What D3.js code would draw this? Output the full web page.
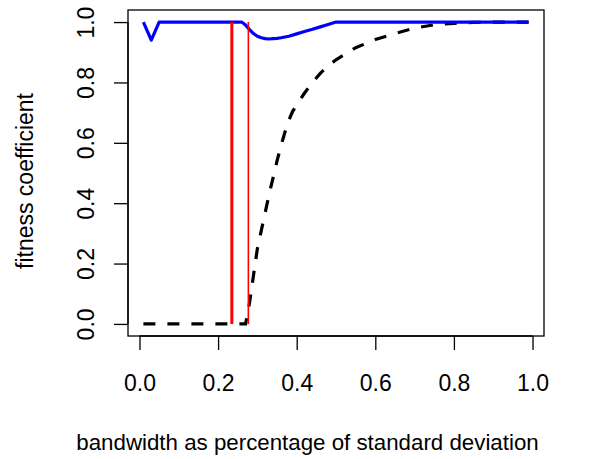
<!DOCTYPE html>
<html>
<head>
<meta charset="utf-8">
<script src="https://cdn.jsdelivr.net/npm/d3@7"></script>
<style>
  html, body { margin: 0; padding: 0; background: #fff; }
  svg { display: block; }
  text { font-family: "Liberation Sans", Arial, Helvetica, sans-serif; fill: #000; }
</style>
</head>
<body>
<svg id="chart" width="606" height="459"></svg>
<script>
// ---- data ----
const xTicks = [0.0, 0.2, 0.4, 0.6, 0.8, 1.0];
const yTicks = [0.0, 0.2, 0.4, 0.6, 0.8, 1.0];
const xTickLabels = ["0.0", "0.2", "0.4", "0.6", "0.8", "1.0"];
const yTickLabels = ["0.0", "0.2", "0.4", "0.6", "0.8", "1.0"];

// blue solid curve
const blueX = [0.01, 0.02, 0.03, 0.04, 0.05, 0.10, 0.20, 0.26, 0.27, 0.28, 0.29, 0.30, 0.31, 0.32, 0.33, 0.34, 0.35, 0.36, 0.38, 0.40, 0.42, 0.44, 0.46, 0.48, 0.50, 0.60, 0.80, 0.99];
const blueY = [1.00, 0.97, 0.94, 0.97, 1.00, 1.00, 1.00, 1.00, 0.99, 0.975, 0.962, 0.953, 0.948, 0.945, 0.944, 0.945, 0.946, 0.948, 0.953, 0.961, 0.969, 0.976, 0.984, 0.992, 1.00, 1.00, 1.00, 1.00];

// black dashed curve
const dashX = [0.01, 0.10, 0.20, 0.27, 0.28, 0.29, 0.30, 0.31, 0.32, 0.33, 0.34, 0.35, 0.36, 0.37, 0.38, 0.39, 0.40, 0.42, 0.44, 0.46, 0.48, 0.50, 0.55, 0.60, 0.65, 0.70, 0.75, 0.80, 0.85, 0.90, 0.99];
const dashY = [0.00, 0.00, 0.00, 0.00, 0.07, 0.16, 0.25, 0.31, 0.37, 0.43, 0.485, 0.54, 0.59, 0.635, 0.675, 0.705, 0.725, 0.765, 0.80, 0.83, 0.855, 0.875, 0.915, 0.942, 0.962, 0.98, 0.991, 0.996, 0.999, 1.00, 1.00];

// red vertical lines
const redX = [0.235, 0.277];
const redWidth = [3, 1.6];

const xLabel = "bandwidth as percentage of standard deviation";
const yLabel = "fitness coefficient";

// ---- layout ----
const svg = d3.select("#chart");
const dataXMin = 0.01, dataXMax = 0.99;
const ext = (dataXMax - dataXMin) * 0.04;
const x = d3.scaleLinear().domain([dataXMin - ext, dataXMax + ext]).range([128, 544]);
const y = d3.scaleLinear().domain([-0.04, 1.04]).range([336, 10]);
const fontSize = 23;

// box
svg.append("rect")
  .attr("x", x.range()[0]).attr("y", y.range()[1])
  .attr("width", x.range()[1] - x.range()[0])
  .attr("height", y.range()[0] - y.range()[1])
  .attr("fill", "none").attr("stroke", "#000").attr("stroke-width", 1.3);

// x axis (R style: line spans first to last tick)
const xAxis = d3.axisBottom(x).tickValues(xTicks).tickSize(14).tickSizeOuter(0)
  .tickFormat((d, i) => xTickLabels[i]);
const gx = svg.append("g").attr("transform", `translate(0,${y.range()[0]})`).call(xAxis);
gx.select(".domain").attr("d", `M${x(xTicks[0])},0H${x(xTicks[xTicks.length - 1])}`)
  .attr("stroke-width", 1.3);
gx.selectAll(".tick line").attr("stroke-width", 1.3);
gx.selectAll(".tick text").attr("font-size", fontSize).attr("dy", null).attr("y", 55)
  .attr("font-family", "Liberation Sans, Arial, sans-serif").attr("fill", "#000");

// y axis
const yAxis = d3.axisLeft(y).tickValues(yTicks).tickSize(14).tickSizeOuter(0)
  .tickFormat((d, i) => yTickLabels[i]);
const gy = svg.append("g").attr("transform", `translate(${x.range()[0]},0)`).call(yAxis);
gy.select(".domain").attr("d", `M0,${y(yTicks[0])}V${y(yTicks[yTicks.length - 1])}`)
  .attr("stroke-width", 1.3);
gy.selectAll(".tick line").attr("stroke-width", 1.3);
gy.selectAll(".tick text")
  .attr("font-size", fontSize)
  .attr("font-family", "Liberation Sans, Arial, sans-serif").attr("fill", "#000")
  .attr("x", null).attr("dy", null)
  .attr("text-anchor", "middle")
  .attr("transform", "translate(-34,0) rotate(-90)");

// lines
const line = d3.line().x(d => x(d[0])).y(d => y(d[1]));
const plotG = svg.append("g");

plotG.append("path")
  .datum(dashX.map((v, i) => [v, dashY[i]]))
  .attr("d", line).attr("fill", "none").attr("stroke", "#000")
  .attr("stroke-width", 3.2).attr("stroke-dasharray", "12,12");

plotG.append("path")
  .datum(blueX.map((v, i) => [v, blueY[i]]))
  .attr("d", line).attr("fill", "none").attr("stroke", "#0000ff")
  .attr("stroke-width", 3.2).attr("stroke-linejoin", "round");

plotG.selectAll(".redline").data(redX).enter().append("line")
  .attr("x1", d => x(d)).attr("x2", d => x(d))
  .attr("y1", y(0)).attr("y2", y(1))
  .attr("stroke", "#ff0000")
  .attr("stroke-width", (d, i) => redWidth[i]);

// axis titles
svg.append("text")
  .attr("x", 307.5)
  .attr("y", 450)
  .attr("text-anchor", "middle")
  .attr("font-size", 22.3)
  .text(xLabel);

svg.append("text")
  .attr("transform", `translate(33,181) rotate(-90)`)
  .attr("text-anchor", "middle")
  .attr("font-size", fontSize)
  .text(yLabel);
</script>
</body>
</html>
